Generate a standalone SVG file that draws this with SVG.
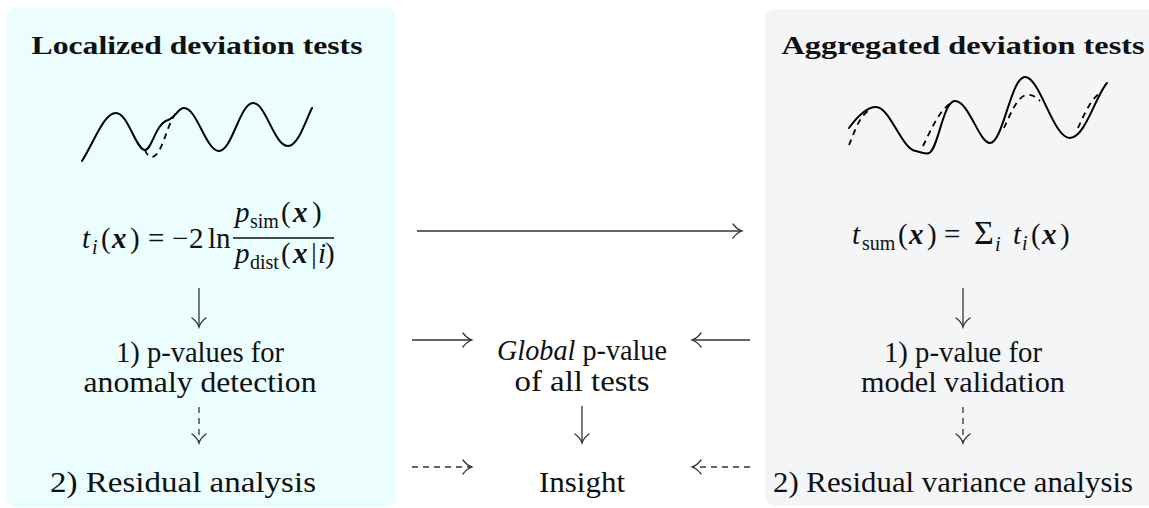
<svg xmlns="http://www.w3.org/2000/svg" width="1149" height="508" viewBox="0 0 1149 508">
<style>
.t{font-family:"Liberation Serif","Times New Roman",serif;font-size:29px;fill:#111;text-anchor:middle}
.h{font-family:"Liberation Serif","Times New Roman",serif;font-size:26px;font-weight:bold;fill:#111;text-anchor:middle}
.m{font-family:"Liberation Serif","Times New Roman",serif;font-size:29px;fill:#111}
.it{font-style:italic}
.bx{font-style:italic;font-weight:bold}
.sub{font-size:20px}
.ar{stroke:#333;stroke-width:1.3;fill:none;marker-end:url(#to)}
.da{stroke-dasharray:6 5}
.w{stroke:#000;stroke-width:2;fill:none;stroke-linecap:round}
.wd{stroke:#000;stroke-width:1.8;fill:none;stroke-dasharray:6 5}
</style>
<defs>
<marker id="to" viewBox="-11 -9 13 18" markerWidth="13" markerHeight="18" refX="0" refY="0" orient="auto" markerUnits="userSpaceOnUse">
<path d="M-9,-7 C-6,-3 -2,-0.6 0,0 C-2,0.6 -6,3 -9,7" stroke="#333" stroke-width="1.3" fill="none" stroke-linecap="round"/>
</marker>
</defs>
<rect width="1149" height="508" fill="#fff"/>
<g id="local">
<rect x="6" y="8" width="390" height="499" rx="10" fill="#ebfdfd"/>
<text class="h" x="197" y="54" textLength="331" lengthAdjust="spacingAndGlyphs">Localized deviation tests</text>
<path class="w" d="M82,161 C95,140 104,113 116,113 C128,113 136,150 145,150 C152,150 155,124 168,120 C176,117 178,108 184,108 C197,108 206,151 219,151 C232,151 240,103 253,103 C266,103 274,146 288,146 C298,146 305,122 312,108"/>
<path class="wd" d="M145,150 C147,155 149,157 152,157 C160,157 166,132 170,124 C173,117 176,112 178,111"/>
<text class="m" y="248"><tspan class="it" x="82">t</tspan><tspan class="it sub" x="92" y="254">i</tspan><tspan x="101" y="248">(</tspan><tspan class="bx" x="112">x</tspan><tspan x="130">)</tspan><tspan x="148">=</tspan><tspan x="172">−</tspan><tspan x="189">2</tspan><tspan x="208">ln</tspan></text>
<line x1="233" y1="238" x2="334" y2="238" stroke="#111" stroke-width="1.3"/>
<text class="m" y="222"><tspan class="it" x="235">p</tspan><tspan class="sub" x="250" y="228">sim</tspan><tspan x="281" y="222">(</tspan><tspan class="bx" x="293">x</tspan><tspan x="312">)</tspan></text>
<text class="m" y="263"><tspan class="it" x="235">p</tspan><tspan class="sub" x="250" y="269">dist</tspan><tspan x="281" y="263">(</tspan><tspan class="bx" x="293">x</tspan><tspan x="311">|</tspan><tspan class="it" x="318">i</tspan><tspan x="325">)</tspan></text>
<text class="t" x="200" y="362" textLength="168" lengthAdjust="spacingAndGlyphs">1) p-values for</text>
<text class="t" x="200" y="392" textLength="233" lengthAdjust="spacingAndGlyphs">anomaly detection</text>
<text class="t" x="183" y="492" textLength="266" lengthAdjust="spacingAndGlyphs">2) Residual analysis</text>
</g>
<g id="aggregated">
<rect x="765" y="9" width="400" height="497" rx="10" fill="#f4f5f7"/>
<text class="h" x="963" y="54" textLength="363" lengthAdjust="spacingAndGlyphs">Aggregated deviation tests</text>
<path class="w" d="M849,128 C857,117 866,107 876,107 C890,107 902,150 916,151 C922,153 927,154 929,153 C938,150 943,101 955,101 C969,101 979,143 990,143 C1003,143 1011,77 1025,77 C1040,77 1053,138 1070,138 C1085,138 1096,95 1107,83"/>
<path class="wd" d="M849,145 C854,133 859,117 868,111 M923,146 C931,130 940,108 953,102 M1004,128 C1010,115 1017,97 1026,95 C1032,94 1036,97 1040,101 M1078,128 C1084,115 1090,100 1101,92"/>
<text class="m" y="244"><tspan class="it" x="852">t</tspan><tspan class="sub" x="862" y="250">sum</tspan><tspan x="898" y="244">(</tspan><tspan class="bx" x="909">x</tspan><tspan x="927">)</tspan><tspan x="944">=</tspan><tspan x="974" font-size="34">Σ</tspan><tspan class="it sub" x="995" y="251">i</tspan><tspan class="it" x="1013" y="244">t</tspan><tspan class="it sub" x="1022" y="250">i</tspan><tspan x="1031" y="244">(</tspan><tspan class="bx" x="1042">x</tspan><tspan x="1060">)</tspan></text>
<text class="t" x="963" y="362" textLength="158" lengthAdjust="spacingAndGlyphs">1) p-value for</text>
<text class="t" x="963" y="392" textLength="204" lengthAdjust="spacingAndGlyphs">model validation</text>
<text class="t" x="953" y="492" textLength="360" lengthAdjust="spacingAndGlyphs">2) Residual variance analysis</text>
</g>
<g id="global">
<text class="t" x="582" y="360" textLength="170" lengthAdjust="spacingAndGlyphs"><tspan font-style="italic">Global</tspan> p-value</text>
<text class="t" x="582" y="391" textLength="135" lengthAdjust="spacingAndGlyphs">of all tests</text>
</g>
<g id="insight">
<text class="t" x="582" y="492" textLength="86" lengthAdjust="spacingAndGlyphs">Insight</text>
</g>
<g id="connectors">
<line class="ar" x1="417" y1="231" x2="742" y2="231"/>
<line class="ar" x1="199" y1="288" x2="199" y2="327"/>
<line class="ar da" x1="199" y1="407" x2="199" y2="443"/>
<line class="ar" x1="963" y1="288" x2="963" y2="327"/>
<line class="ar da" x1="963" y1="407" x2="963" y2="443"/>
<line class="ar" x1="582" y1="406" x2="582" y2="443"/>
<line class="ar" x1="412" y1="340" x2="472" y2="340"/>
<line class="ar" x1="750" y1="340" x2="692" y2="340"/>
<line class="ar da" x1="412" y1="467" x2="472" y2="467"/>
<line class="ar da" x1="750" y1="467" x2="692" y2="467"/>
</g>
</svg>
